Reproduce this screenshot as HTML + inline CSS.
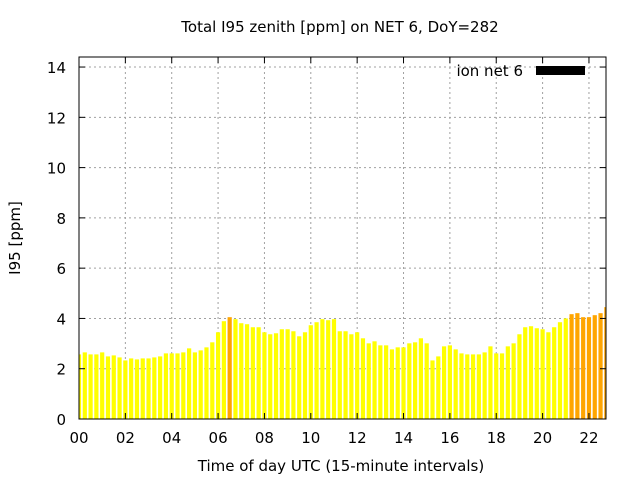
<!DOCTYPE html>
<html><head><meta charset="utf-8"><style>
body{margin:0;background:#fff}
svg text{font-family:"DejaVu Sans","Liberation Sans",sans-serif;font-size:15px;fill:#000}
</style></head><body>
<svg id="chart" width="640" height="480" viewBox="0 0 640 480" xmlns="http://www.w3.org/2000/svg">
<text x="340" y="32" text-anchor="middle" font-size="15.5">Total I95 zenith [ppm] on NET 6, DoY=282</text>
<text x="341" y="471" text-anchor="middle" font-size="15.6">Time of day UTC (15-minute intervals)</text>
<text transform="translate(20,238) rotate(-90)" text-anchor="middle" font-size="15.5">I95 [ppm]</text>
<g id="grid"></g><g id="bars"></g><g id="axes"></g>
<g>
<text x="523" y="76" text-anchor="end" font-size="16">ion net 6</text>
<rect x="536" y="66" width="49" height="9" fill="#000"/>
</g>
</svg>
<script>
const values = [2.57,2.65,2.57,2.57,2.65,2.49,2.53,2.45,2.33,2.41,2.37,2.41,2.41,2.45,2.49,2.61,2.61,2.61,2.65,2.81,2.65,2.73,2.85,3.05,3.45,3.89,4.05,3.97,3.81,3.77,3.65,3.65,3.45,3.37,3.41,3.57,3.57,3.49,3.29,3.45,3.73,3.85,3.97,3.93,3.97,3.49,
3.49,3.37,3.45,3.21,3.01,3.09,2.93,2.93,2.77,2.85,2.85,3.01,3.05,3.21,3.01,2.33,2.49,2.89,2.93,2.77,2.61,2.57,2.57,2.57,2.65,2.89,2.61,2.61,2.89,3.01,3.37,3.65,3.69,3.61,3.57,3.45,3.65,3.85,4.0,4.17,4.21,4.05,4.05,4.13,4.21,4.45];
const xTicks = ["00","02","04","06","08","10","12","14","16","18","20","22"];
const yTicks = [0,2,4,6,8,10,12,14];
const X0=79,X1=606,Y0=419,Y1=57;
const xs=h=>X0+h*23.18;
const ys=v=>Y0-v*25.14;
const NS="http://www.w3.org/2000/svg";
function mk(tag,attrs,parent){const e=document.createElementNS(NS,tag);for(const k in attrs)e.setAttribute(k,attrs[k]);parent.appendChild(e);return e;}
const grid=document.getElementById('grid'),bars=document.getElementById('bars'),axes=document.getElementById('axes');
const clip=mk('clipPath',{id:'pc'},document.getElementById('chart'));
mk('rect',{x:X0,y:Y1,width:X1-X0,height:Y0-Y1},clip);
bars.setAttribute('clip-path','url(#pc)');
xTicks.forEach((t,i)=>{const x=xs(i*2);
 const g=mk('line',{x1:x,x2:x,y1:Y0,y2:Y1,stroke:'#a0a0a0','stroke-dasharray':'2,3'},grid);
 
 mk('line',{x1:x,x2:x,y1:Y0,y2:Y0-6,stroke:'#000'},axes);
 mk('line',{x1:x,x2:x,y1:Y1,y2:Y1+6,stroke:'#000'},axes);
 const tx=mk('text',{x:x,y:443,'text-anchor':'middle','font-size':'16'},axes);tx.textContent=t;
 });
yTicks.forEach(v=>{const y=ys(v);
 if(v>0){const g=mk('line',{x1:X0,x2:X1,y1:y,y2:y,stroke:'#a0a0a0','stroke-dasharray':'2,3'},grid);
 }
 mk('line',{x1:X0,x2:X0+6,y1:y,y2:y,stroke:'#000'},axes);
 mk('line',{x1:X1,x2:X1-6,y1:y,y2:y,stroke:'#000'},axes);
 const tx=mk('text',{x:66,y:y+6,'text-anchor':'end','font-size':'16'},axes);tx.textContent=v;
 });
values.forEach((v,i)=>{const c=xs(i*0.25),w=4.2;
 const r=mk('rect',{x:c-w/2,y:ys(v),width:w,height:Y0-ys(v),fill:v>4.02?'#ffa500':'#ffff00'},bars);
 });
const f=mk('rect',{x:X0,y:Y1,width:X1-X0,height:Y0-Y1,fill:'none',stroke:'#000','stroke-width':1},axes);

</script>
</body></html>
